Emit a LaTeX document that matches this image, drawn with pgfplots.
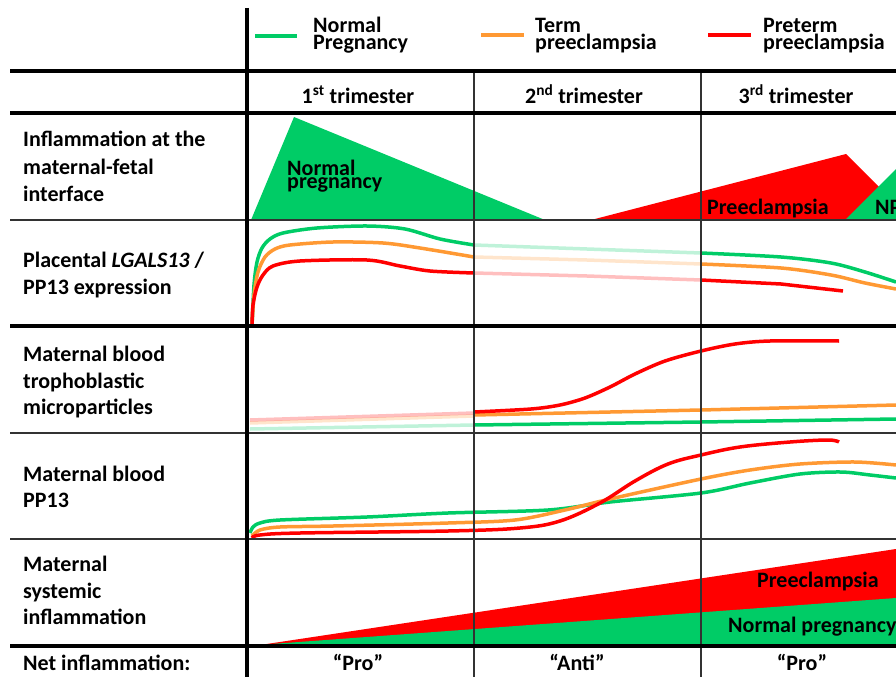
\documentclass[border=0pt]{standalone}
\usepackage{pgfplots}
\pgfplotsset{compat=1.18}
\usepackage{fontspec}
\setmainfont{Carlito}

\definecolor{cgreen}{RGB}{0,204,102}
\definecolor{corange}{RGB}{255,153,51}
\definecolor{cred}{RGB}{255,0,0}
\definecolor{cgrid}{RGB}{50,50,50}

\tikzset{lbl/.style={font=\fontsize{22bp}{26bp}\selectfont\bfseries, inner sep=0pt, anchor=base west},
         lblc/.style={lbl, anchor=base}}

\begin{document}
\begin{tikzpicture}
  \begin{axis}[
    width=896bp, height=677bp, scale only axis,
    xmin=0, xmax=896, ymin=0, ymax=677,
    y dir=reverse, hide axis, clip=true,
    ]
    % --- inflammation at the maternal-fetal interface
    \addplot[fill=cgreen, draw=none] coordinates {(251,220) (294,117) (545,220)} -- cycle;
    \addplot[fill=cred, draw=none] coordinates {(591,220) (846,154) (912,220)} -- cycle;
    \addplot[fill=cgreen, draw=none] coordinates {(845,220) (896,169) (896,220)} -- cycle;

    % --- maternal systemic inflammation
    \addplot[fill=cred, draw=none] coordinates {(260,645) (896,549) (896,645)} -- cycle;
    \addplot[fill=cgreen, draw=none] coordinates {(258,645) (896,598) (896,645)} -- cycle;

    % --- placental LGALS13 / PP13 expression
    \addplot[cgreen, line width=3.5bp, smooth, tension=0.5] coordinates {(252,326) (254,285) (257,262) (262,248) (270,239) (283,233) (317,228) (367,226) (405,229) (440,239) (474,245)};
    \addplot[cgreen, line width=3.5bp, opacity=0.25] coordinates {(474,245) (587,249) (701,253)};
    \addplot[cgreen, line width=3.5bp, smooth, tension=0.5] coordinates {(701,253) (781,257) (831,263) (865,272) (896,282)};
    \addplot[corange, line width=3.5bp, smooth, tension=0.5] coordinates {(252,326) (254,295) (258,272) (265,257) (275,249) (290,245) (333,242) (383,243) (420,248) (474,257)};
    \addplot[corange, line width=3.5bp, opacity=0.25] coordinates {(474,257) (587,260) (701,264)};
    \addplot[corange, line width=3.5bp, smooth, tension=0.5] coordinates {(701,264) (781,268) (831,275) (865,283) (896,289)};
    \addplot[cred, line width=3.5bp, smooth, tension=0.5] coordinates {(252,326) (253,305) (257,287) (263,275) (273,266) (300,261) (367,260) (400,266) (430,271) (474,273)};
    \addplot[cred, line width=3.5bp, opacity=0.25] coordinates {(474,273) (587,276) (701,280)};
    \addplot[cred, line width=3.5bp] coordinates {(701,280) (781,284) (843,291)};

    % --- maternal blood trophoblastic microparticles
    \addplot[cgreen, line width=3.5bp, opacity=0.25] coordinates {(250,429) (474,425)};
    \addplot[corange, line width=3.5bp, opacity=0.25] coordinates {(250,423) (474,416)};
    \addplot[cred, line width=3.5bp, opacity=0.25] coordinates {(250,420) (474,413)};
    \addplot[cgreen, line width=3.5bp] coordinates {(474,425) (701,422) (896,419)};
    \addplot[corange, line width=3.5bp] coordinates {(474,415) (701,410) (896,405)};
    \addplot[cred, line width=3.5bp, smooth, tension=0.5] coordinates {(474,412) (531,409) (560,405) (585,398) (610,387) (635,374) (665,361) (701,351) (735,344) (770,341) (839,341)};

    % --- maternal blood PP13
    \addplot[cgreen, line width=3.5bp, smooth, tension=0.5] coordinates {(250,533) (253,527) (260,523) (280,520) (367,517) (448,513) (548,510) (610,502) (701,493) (750,483) (800,474) (841,472) (870,475) (896,478)};
    \addplot[corange, line width=3.5bp, smooth, tension=0.5] coordinates {(252,536) (260,530) (280,527) (333,526) (448,523) (515,520) (565,510) (610,499) (701,479) (750,470) (800,464) (855,462) (896,465)};
    \addplot[cred, line width=3.5bp, smooth, tension=0.6] coordinates {(252,538) (260,535) (300,533) (448,531) (520,528) (560,521) (600,503) (635,481) (668,464) (701,455) (740,447) (790,442) (828,440) (839,442)};

    % --- legend lines
    \addplot[cgreen, line width=4bp] coordinates {(255,36) (297,36)};
    \addplot[corange, line width=4bp] coordinates {(481,35) (524,35)};
    \addplot[cred, line width=4bp] coordinates {(708,35) (751,35)};

    % --- table rules
    \draw[cgrid, line width=1.3bp] (axis cs:10,220) -- (axis cs:896,220);
    \draw[cgrid, line width=1.3bp] (axis cs:10,433) -- (axis cs:896,433);
    \draw[cgrid, line width=1.3bp] (axis cs:10,539) -- (axis cs:896,539);
    \draw[cgrid, line width=1.3bp] (axis cs:474,71) -- (axis cs:474,677);
    \draw[cgrid, line width=1.3bp] (axis cs:701,71) -- (axis cs:701,677);
    \draw[black, line width=3.8bp] (axis cs:10,71) -- (axis cs:896,71);
    \draw[black, line width=3.8bp] (axis cs:10,113) -- (axis cs:896,113);
    \draw[black, line width=3.8bp] (axis cs:10,326) -- (axis cs:896,326);
    \draw[black, line width=3.8bp] (axis cs:10,646) -- (axis cs:896,646);
    \draw[black, line width=3.8bp] (axis cs:247,8) -- (axis cs:247,677);

    % --- legend text
    \node[lbl] at (axis cs:313,33) {Normal};
    \node[lbl] at (axis cs:313,50) {Pregnancy};
    \node[lbl] at (axis cs:535,33) {Term};
    \node[lbl] at (axis cs:535,50) {preeclampsia};
    \node[lbl] at (axis cs:763,33) {Preterm};
    \node[lbl] at (axis cs:763,50) {preeclampsia};

    % --- headers
    \node[lblc] at (axis cs:358,103) {1\textsuperscript{st} trimester};
    \node[lblc] at (axis cs:584,103) {2\textsuperscript{nd} trimester};
    \node[lblc] at (axis cs:796,103) {3\textsuperscript{rd} trimester};

    % --- row labels
    \node[lbl] at (axis cs:23,146) {Inflammation at the};
    \node[lbl] at (axis cs:23,174) {maternal-fetal};
    \node[lbl] at (axis cs:23,201) {interface};
    \node[lbl] at (axis cs:23,267) {Placental \textit{LGALS13} /};
    \node[lbl] at (axis cs:23,294) {PP13 expression};
    \node[lbl] at (axis cs:23,361) {Maternal blood};
    \node[lbl] at (axis cs:23,388) {trophoblastic};
    \node[lbl] at (axis cs:23,414) {microparticles};
    \node[lbl] at (axis cs:23,481) {Maternal blood};
    \node[lbl] at (axis cs:23,507) {PP13};
    \node[lbl] at (axis cs:23,571) {Maternal};
    \node[lbl] at (axis cs:23,598) {systemic};
    \node[lbl] at (axis cs:23,624) {inflammation};
    \node[lbl] at (axis cs:23,670) {Net inflammation:};

    % --- net inflammation
    \node[lblc] at (axis cs:358,670) {“Pro”};
    \node[lblc] at (axis cs:577,670) {“Anti”};
    \node[lblc] at (axis cs:802,670) {“Pro”};

    % --- labels inside areas
    \node[lbl] at (axis cs:287,175) {Normal};
    \node[lbl] at (axis cs:287,188) {pregnancy};
    \node[lbl] at (axis cs:707,214) {Preeclampsia};
    \node[lbl] at (axis cs:875,214) {NP};
    \node[lbl] at (axis cs:757,587) {Preeclampsia};
    \node[lbl] at (axis cs:728,632) {Normal pregnancy};
  \end{axis}
  \pgfresetboundingbox
  \useasboundingbox (current axis.south west) rectangle (current axis.north east);
\end{tikzpicture}
\end{document}
